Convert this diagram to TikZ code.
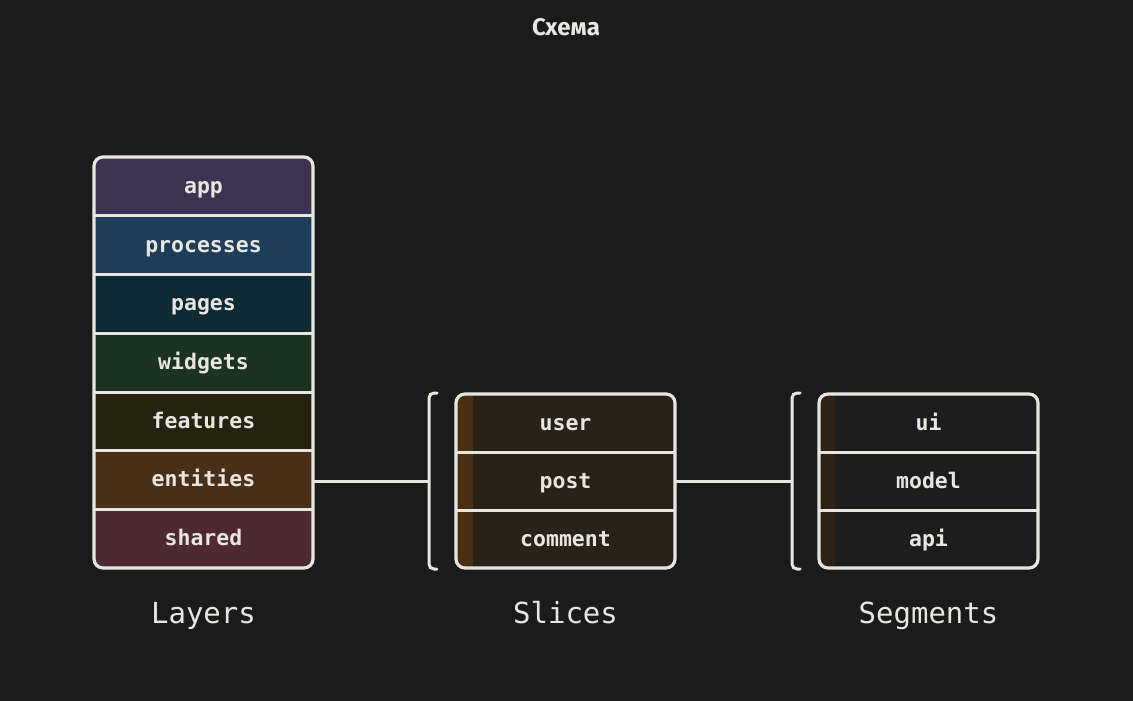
\documentclass[tikz,border=0pt]{standalone}
\usepackage{fontspec}
\setmainfont{DejaVu Sans Mono}
\newfontfamily\titlefont{Fira Sans}
\definecolor{bg}{HTML}{1B1B1B}
\definecolor{ink}{HTML}{E8E6E1}
\definecolor{capp}{HTML}{3D3350}
\definecolor{cproc}{HTML}{1E3D58}
\definecolor{cpages}{HTML}{0F2A33}
\definecolor{cwidg}{HTML}{1C3220}
\definecolor{cfeat}{HTML}{272210}
\definecolor{cent}{HTML}{4A2F18}
\definecolor{cshared}{HTML}{4E2A2E}
\definecolor{cslice}{HTML}{2A2118}
\definecolor{cslstrip}{HTML}{4A2F12}
\definecolor{cseg}{HTML}{1D1D1D}
\definecolor{csegstrip}{HTML}{2F2317}
\tikzset{
  row/.style={minimum width=219pt, minimum height=58.7pt, inner sep=0pt, text=ink, text height=17pt, text depth=3pt, font=\bfseries\fontsize{21.5}{25}\selectfont},
  srow/.style={minimum width=219pt, minimum height=58pt, inner sep=0pt, text=ink, text height=17pt, text depth=3pt, font=\bfseries\fontsize{21.5}{25}\selectfont},
  frame/.style={draw=ink, line width=3.2pt, rounded corners=9pt},
  sepline/.style={draw=ink, line width=3pt},
  conn/.style={draw=ink, line width=3pt},
  brack/.style={draw=ink, line width=3pt, rounded corners=5pt, line cap=round},
  caption/.style={text=ink, inner sep=0pt, text height=22pt, text depth=4pt, font=\fontsize{29}{34}\selectfont},
}
\begin{document}
\begin{tikzpicture}[x=1pt,y=-1pt]
\fill[bg] (0,0) rectangle (1133,701);
\useasboundingbox (0,0) rectangle (1133,701);
\node[text=ink, inner sep=0pt, text height=18pt, text depth=2pt, font=\titlefont\bfseries\fontsize{24}{28}\selectfont] (title) at (566,28) {Схема};
% Layers
\begin{scope}
\clip[rounded corners=9pt] (94,157) rectangle (313,568);
\node[row, fill=capp] (app) at (203.5,186.35) {app};
\node[row, fill=cproc] (proc) at (203.5,245.05) {processes};
\node[row, fill=cpages] (pages) at (203.5,303.75) {pages};
\node[row, fill=cwidg] (widg) at (203.5,362.45) {widgets};
\node[row, fill=cfeat] (feat) at (203.5,421.15) {features};
\node[row, fill=cent] (ent) at (203.5,479.85) {entities};
\node[row, fill=cshared] (shared) at (203.5,538.55) {shared};
\end{scope}
\draw[sepline] (app.south west) -- (app.south east);
\draw[sepline] (proc.south west) -- (proc.south east);
\draw[sepline] (pages.south west) -- (pages.south east);
\draw[sepline] (widg.south west) -- (widg.south east);
\draw[sepline] (feat.south west) -- (feat.south east);
\draw[sepline] (ent.south west) -- (ent.south east);
\draw[frame] (94,157) rectangle (313,568);
% Slices
\begin{scope}
\clip[rounded corners=9pt] (456,394) rectangle (675,568);
\node[srow, fill=cslice] (user) at (565.5,423) {};
\node[srow, fill=cslice] (post) at (565.5,481) {};
\node[srow, fill=cslice] (comment) at (565.5,539) {};
\fill[cslstrip] (456,394) rectangle (473,568);
\end{scope}
\node[srow] at (user) {user};
\node[srow] at (post) {post};
\node[srow] at (comment) {comment};
\draw[sepline] (user.south west) -- (user.south east);
\draw[sepline] (post.south west) -- (post.south east);
\draw[frame] (456,394) rectangle (675,568);
% Segments
\begin{scope}
\clip[rounded corners=9pt] (819,394) rectangle (1038,568);
\node[srow, fill=cseg] (ui) at (928.5,423) {};
\node[srow, fill=cseg] (model) at (928.5,481) {};
\node[srow, fill=cseg] (api) at (928.5,539) {};
\fill[csegstrip] (819,394) rectangle (835,568);
\end{scope}
\node[srow] at (ui) {ui};
\node[srow] at (model) {model};
\node[srow] at (api) {api};
\draw[sepline] (ui.south west) -- (ui.south east);
\draw[sepline] (model.south west) -- (model.south east);
\draw[frame] (819,394) rectangle (1038,568);
% brackets
\coordinate (b1) at (429,481);
\coordinate (b2) at (792,481);
\draw[brack] (437,393) -- (429,393) -- (429,569) -- (437,569);
\draw[brack] (800,393) -- (792,393) -- (792,569) -- (800,569);
% connectors
\draw[conn] (ent.east |- b1) -- (b1);
\draw[conn] (post.east) -- (b2);
% captions
\node[caption] (lcap) at (203.5,614) {Layers};
\node[caption] (scap) at (565.5,614) {Slices};
\node[caption] (gcap) at (928.5,614) {Segments};
\end{tikzpicture}
\end{document}
